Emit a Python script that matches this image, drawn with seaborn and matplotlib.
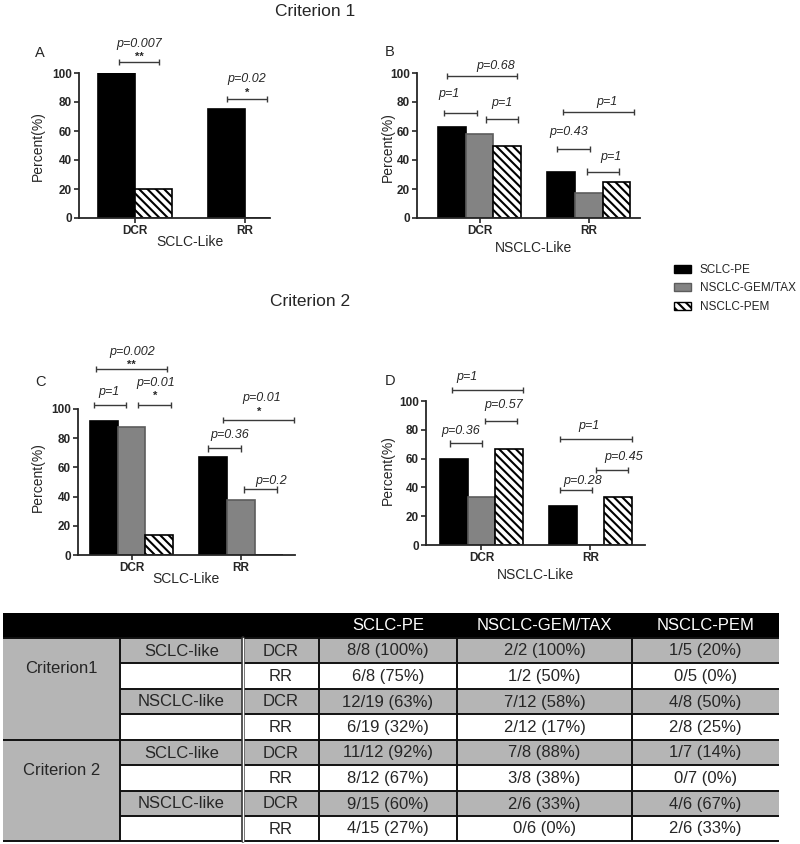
import numpy as np
import pandas as pd
import matplotlib
matplotlib.use("Agg")
import matplotlib.pyplot as plt
from matplotlib.patches import Patch, Rectangle
import seaborn as sns

# ---------------- data ----------------
metrics = ["DCR", "RR"]
groups = ["SCLC-PE", "NSCLC-GEM/TAX", "NSCLC-PEM"]

# Panel A (Criterion 1, SCLC-Like)
a_sclc_pe = [100, 75]
a_nsclc_pem = [20, 0]
# Panel B (Criterion 1, NSCLC-Like)
b_sclc_pe = [63, 32]
b_nsclc_gem = [58, 17]
b_nsclc_pem = [50, 25]
# Panel C (Criterion 2, SCLC-Like)
c_sclc_pe = [92, 67]
c_nsclc_gem = [88, 38]
c_nsclc_pem = [14, 0]
# Panel D (Criterion 2, NSCLC-Like)
d_sclc_pe = [60, 27]
d_nsclc_gem = [33, 0]
d_nsclc_pem = [67, 33]

yticks = [0, 20, 40, 60, 80, 100]

a_pvals = ["p=0.007", "p=0.02"]
a_stars = ["**", "*"]
b_pvals = ["p=0.68", "p=1", "p=1", "p=1", "p=0.43", "p=1"]
c_pvals = ["p=0.002", "p=1", "p=0.01", "p=0.01", "p=0.36", "p=0.2"]
c_stars = ["**", "", "*", "*", "", ""]
d_pvals = ["p=1", "p=0.57", "p=0.36", "p=1", "p=0.45", "p=0.28"]

table_header = ["", "", "", "SCLC-PE", "NSCLC-GEM/TAX", "NSCLC-PEM"]
table_criteria = ["Criterion1", "Criterion 2"]
table_subtypes = ["SCLC-like", "NSCLC-like"]
table_metrics = ["DCR", "RR"]
table_sclc_pe = ["8/8 (100%)", "6/8 (75%)", "12/19 (63%)", "6/19 (32%)",
                 "11/12 (92%)", "8/12 (67%)", "9/15 (60%)", "4/15 (27%)"]
table_gem = ["2/2 (100%)", "1/2 (50%)", "7/12 (58%)", "2/12 (17%)",
             "7/8 (88%)", "3/8 (38%)", "2/6 (33%)", "0/6 (0%)"]
table_pem = ["1/5 (20%)", "0/5 (0%)", "4/8 (50%)", "2/8 (25%)",
             "1/7 (14%)", "0/7 (0%)", "4/6 (67%)", "2/6 (33%)"]

# ---------------- style ----------------
sns.set_theme(style="ticks")
plt.rcParams["font.family"] = ["Liberation Sans", "DejaVu Sans"]
plt.rcParams["hatch.linewidth"] = 1.5
plt.rcParams["axes.linewidth"] = 1.3

palette = {"SCLC-PE": "#000000", "NSCLC-GEM/TAX": "#838383", "NSCLC-PEM": "#ffffff"}
HATCH = "\\\\\\\\"

W, H = 800, 844
fig = plt.figure(figsize=(W / 100, H / 100), dpi=100)


def rect(left, top, right, bottom):
    return [left / W, 1 - bottom / H, (right - left) / W, (bottom - top) / H]


def px(x, y):
    return x / W, 1 - y / H


def draw_panel(ax, series, width, xlim):
    rows = []
    for g, vals in series.items():
        for m, v in zip(metrics, vals):
            rows.append((m, g, v))
    df = pd.DataFrame(rows, columns=["metric", "group", "value"])
    hue_order = list(series.keys())
    sns.barplot(data=df, x="metric", y="value", hue="group", order=metrics,
                hue_order=hue_order, palette=palette, width=width, gap=0,
                saturation=1, edgecolor="black", linewidth=1.2,
                errorbar=None, legend=False, ax=ax)
    for cont, g in zip(ax.containers, hue_order):
        for p in cont:
            if g == "NSCLC-PEM":
                p.set_hatch(HATCH)
                p.set_edgecolor("black")
            elif g == "NSCLC-GEM/TAX":
                p.set_edgecolor("#5c5c5c")
    ax.set_xlim(*xlim)
    ax.set_ylim(0, 100)
    ax.set_yticks(yticks)
    ax.set_xlabel("")
    ax.set_ylabel("")
    sns.despine(ax=ax)
    ax.tick_params(axis="both", length=3.5, width=1.2, pad=1.5, labelsize=8.5)
    for lab in ax.get_xticklabels() + ax.get_yticklabels():
        lab.set_fontweight("bold")


def bracket(ax, x1, x2, y, text, tx, ty, star="", sy=None):
    kw = dict(color="#3a3a3a", lw=1.0, clip_on=False, solid_capstyle="butt")
    ax.plot([x1, x2], [y, y], **kw)
    for x in (x1, x2):
        ax.plot([x, x], [y - 2.2, y + 2.2], **kw)
    ax.text(tx, ty, text, style="italic", fontsize=9, ha="center", va="center",
            clip_on=False)
    if star:
        ax.text((x1 + x2) / 2, sy, star, fontsize=8, ha="center", va="center",
                fontweight="bold", clip_on=False)


# ---------------- Panel A ----------------
axA = fig.add_axes(rect(79, 73, 270, 218))
draw_panel(axA, {"SCLC-PE": a_sclc_pe, "NSCLC-PEM": a_nsclc_pem}, 0.67, (-0.509, 1.227))
bracket(axA, -0.145, 0.218, 107.4, a_pvals[0], 0.036, 120, a_stars[0], 111)
bracket(axA, 0.836, 1.2, 81.9, a_pvals[1], 1.018, 96, a_stars[1], 86)

# ---------------- Panel B ----------------
axB = fig.add_axes(rect(417, 73, 640, 218))
draw_panel(axB, {"SCLC-PE": b_sclc_pe, "NSCLC-GEM/TAX": b_nsclc_gem,
                 "NSCLC-PEM": b_nsclc_pem}, 0.76, (-0.573, 1.47))
b_pos = [(-0.301, 0.341, 97.9, 0.151, 104.8),
         (-0.326, -0.026, 72.6, -0.28, 85.3),
         (0.057, 0.356, 68.0, 0.204, 79.0),
         (0.76, 1.417, 73.3, 1.167, 80.2),
         (0.714, 1.014, 47.6, 0.821, 59.5),
         (0.983, 1.28, 32.0, 1.204, 42.3)]
for (x1, x2, y, tx, ty), t in zip(b_pos, b_pvals):
    bracket(axB, x1, x2, y, t, tx, ty)

# ---------------- Panel C ----------------
axC = fig.add_axes(rect(78, 409, 295, 555))
draw_panel(axC, {"SCLC-PE": c_sclc_pe, "NSCLC-GEM/TAX": c_nsclc_gem,
                 "NSCLC-PEM": c_nsclc_pem}, 0.76, (-0.489, 1.493))
c_pos = [(-0.324, 0.327, 127.2, 0.007, 139.0, 130.5),
         (-0.34, -0.05, 102.7, -0.205, 111.9, None),
         (0.062, 0.361, 102.7, 0.224, 117.6, 109.0),
         (0.838, 1.487, 92.5, 1.189, 107.3, 98.0),
         (0.701, 0.997, 73.0, 0.893, 82.2, None),
         (1.03, 1.326, 45.0, 1.28, 50.5, None)]
for (x1, x2, y, tx, ty, sy), t, s in zip(c_pos, c_pvals, c_stars):
    bracket(axC, x1, x2, y, t, tx, ty, s, sy)

# ---------------- Panel D ----------------
axD = fig.add_axes(rect(426, 401, 645, 545))
draw_panel(axD, {"SCLC-PE": d_sclc_pe, "NSCLC-GEM/TAX": d_nsclc_gem,
                 "NSCLC-PEM": d_nsclc_pem}, 0.76, (-0.509, 1.5))
d_pos = [(-0.273, 0.383, 107.6, -0.13, 116.9),
         (0.032, 0.323, 86.3, 0.2, 97.2),
         (-0.289, 0.002, 70.6, -0.188, 79.2),
         (0.72, 1.378, 73.4, 0.989, 82.6),
         (1.048, 1.347, 52.0, 1.301, 61.3),
         (0.72, 1.017, 38.2, 0.925, 44.4)]
for (x1, x2, y, tx, ty), t in zip(d_pos, d_pvals):
    bracket(axD, x1, x2, y, t, tx, ty)

# ---------------- figure texts ----------------
fig.text(*px(315, 11), "Criterion 1", fontsize=12.5, ha="center", va="center")
fig.text(*px(310, 302), "Criterion 2", fontsize=12.5, ha="center", va="center")
for lab, (x, y) in zip("ABCD", [(40, 53), (390, 52), (40, 382), (390, 381)]):
    fig.text(*px(x, y), lab, fontsize=10.5, ha="center", va="center")
for (x, y) in [(38, 146), (388, 147), (38, 477), (388, 470)]:
    fig.text(*px(x, y), "Percent(%)", fontsize=10, rotation=90, ha="center", va="center")
for lab, (x, y) in zip(["SCLC-Like", "NSCLC-Like", "SCLC-Like", "NSCLC-Like"],
                       [(190, 242), (534, 248), (186, 579), (536, 575)]):
    fig.text(*px(x, y), lab, fontsize=10, ha="center", va="center")

# ---------------- legend ----------------
handles = [Patch(facecolor=palette["SCLC-PE"], edgecolor="black", lw=1.0),
           Patch(facecolor=palette["NSCLC-GEM/TAX"], edgecolor="#5c5c5c", lw=1.0),
           Patch(facecolor="white", edgecolor="black", hatch=HATCH, lw=1.0)]
fig.legend(handles, groups, loc="upper left", bbox_to_anchor=px(674, 264),
           frameon=False, fontsize=8.5, handlelength=1.45, handleheight=0.7,
           handletextpad=0.75, labelspacing=0.55, borderpad=0, borderaxespad=0)

# ---------------- table ----------------
axT = fig.add_axes(rect(0, 600, 800, 844))
axT.set_xlim(0, 800)
axT.set_ylim(844, 600)
axT.axis("off")

col_edges = [3, 120, 243, 319, 457, 632, 779]
row_edges = [613, 638, 663, 689, 714, 740, 765, 791, 816, 841]
GREY = "#b5b5b5"
FS = 12

# header
axT.add_patch(Rectangle((col_edges[0], row_edges[0]), col_edges[-1] - col_edges[0],
                        row_edges[1] - row_edges[0], facecolor="black", edgecolor="none"))
for j, txt in enumerate(table_header):
    if txt:
        axT.text((col_edges[j] + col_edges[j + 1]) / 2, (row_edges[0] + row_edges[1]) / 2 + 0.5,
                 txt, color="white", fontsize=FS, ha="center", va="center")

# criterion column (merged)
for k, crit in enumerate(table_criteria):
    top = row_edges[1 + 4 * k]
    bot = row_edges[5 + 4 * k]
    axT.add_patch(Rectangle((col_edges[0], top), col_edges[1] - col_edges[0], bot - top,
                            facecolor=GREY, edgecolor="none"))
    axT.text((col_edges[0] + col_edges[1]) / 2, top + (bot - top) * 0.3, crit,
             fontsize=FS, ha="center", va="center")

values = [table_sclc_pe, table_gem, table_pem]
for i in range(8):
    top, bot = row_edges[1 + i], row_edges[2 + i]
    metric = table_metrics[i % 2]
    fc = GREY if metric == "DCR" else "white"
    for j in range(1, 6):
        axT.add_patch(Rectangle((col_edges[j], top), col_edges[j + 1] - col_edges[j], bot - top,
                                facecolor=fc, edgecolor="none"))
    cy = (top + bot) / 2 + 0.5
    if metric == "DCR":
        axT.text((col_edges[1] + col_edges[2]) / 2, cy, table_subtypes[(i // 2) % 2],
                 fontsize=FS, ha="center", va="center")
    axT.text((col_edges[2] + col_edges[3]) / 2, cy, metric, fontsize=FS, ha="center", va="center")
    for j, col in enumerate(values):
        axT.text((col_edges[3 + j] + col_edges[4 + j]) / 2, cy, col[i], fontsize=FS,
                 ha="center", va="center")

# grid lines
lkw = dict(color="#111111", lw=1.4, solid_capstyle="butt")
for k, y in enumerate(row_edges[1:]):
    x0 = col_edges[0] if k in (0, 4, 8) else col_edges[1]
    axT.plot([x0, col_edges[-1]], [y, y], **lkw)
for j, x in enumerate(col_edges[1:-1]):
    if j == 1:
        axT.plot([x, x], [row_edges[1], row_edges[-1]], color="#333333", lw=2.6)
        axT.plot([x, x], [row_edges[1], row_edges[-1]], color="white", lw=1.0)
    else:
        axT.plot([x, x], [row_edges[1], row_edges[-1]], **lkw)

fig.savefig("out.png", dpi=100)
